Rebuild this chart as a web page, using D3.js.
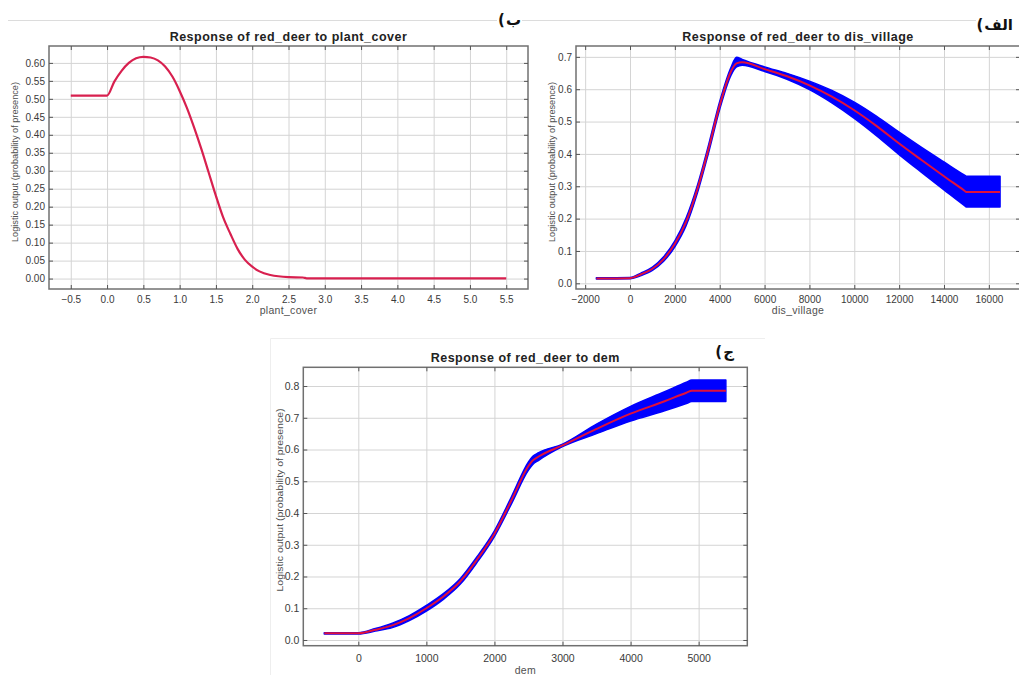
<!DOCTYPE html>
<html>
<head>
<meta charset="utf-8">
<script src="https://cdn.jsdelivr.net/npm/d3@7"></script>
<style>
  body { margin: 0; background: #fff; }
  svg { display: block; font-family: "Liberation Sans", Arial, sans-serif; }
  .grid line { stroke: #d4d4d4; stroke-width: 1; }
  .grid path { display: none; }
  .ax path { display: none; }
  .ax line { stroke: #555; stroke-width: 1; }
  .ax text { fill: #3a3a3a; }
  .title { font-weight: bold; fill: #222; }
  .lab { fill: #505050; }
  .fa { font-family: "DejaVu Sans", sans-serif; font-weight: bold; fill: #111; }
</style>
</head>
<body>
<svg width="1019" height="675"></svg>
<script>
// panel ب : response to plant_cover
const coverX = [-0.5, 0.0, 0.1, 0.2, 0.3, 0.4, 0.5, 0.6, 0.7, 0.8, 0.9, 1.0, 1.1, 1.2, 1.3, 1.4, 1.5, 1.6, 1.7, 1.8, 1.9, 2.0, 2.1, 2.25, 2.5, 2.7, 2.75, 5.5];
const coverY = [0.509, 0.509, 0.548, 0.578, 0.600, 0.613, 0.617, 0.615, 0.607, 0.590, 0.562, 0.522, 0.475, 0.420, 0.360, 0.295, 0.230, 0.170, 0.124, 0.082, 0.052, 0.033, 0.020, 0.010, 0.004, 0.003, 0.0008, 0.0008];

// panel الف : response to dis_village (mean and +/- band)
const villageX = [-1500, 0, 500, 1000, 1500, 2000, 2500, 3000, 3500, 4000, 4500, 4750, 5000, 6000, 7000, 8000, 9000, 10000, 11000, 12000, 13000, 14000, 14900, 15000, 16500];
const villageMean = [0.015, 0.016, 0.028, 0.045, 0.075, 0.122, 0.190, 0.290, 0.415, 0.550, 0.655, 0.680, 0.683, 0.662, 0.640, 0.612, 0.577, 0.535, 0.486, 0.432, 0.381, 0.331, 0.287, 0.282, 0.282];
const villageLow = [0.013, 0.014, 0.024, 0.040, 0.068, 0.113, 0.178, 0.278, 0.403, 0.538, 0.643, 0.669, 0.674, 0.655, 0.631, 0.599, 0.558, 0.510, 0.456, 0.398, 0.343, 0.289, 0.241, 0.236, 0.236];
const villageHigh = [0.017, 0.018, 0.032, 0.050, 0.082, 0.131, 0.202, 0.302, 0.427, 0.562, 0.667, 0.699, 0.692, 0.669, 0.649, 0.625, 0.596, 0.560, 0.516, 0.467, 0.420, 0.375, 0.335, 0.331, 0.331];

// panel ج : response to dem (mean and +/- band)
const demX = [-500, 0, 250, 500, 750, 1000, 1250, 1500, 1750, 2000, 2250, 2500, 2560, 2650, 3000, 3500, 4000, 4500, 4820, 4900, 5400];
const demMean = [0.021, 0.021, 0.032, 0.046, 0.069, 0.100, 0.137, 0.185, 0.255, 0.335, 0.440, 0.548, 0.565, 0.578, 0.613, 0.665, 0.713, 0.752, 0.779, 0.785, 0.785];
const demLow = [0.019, 0.019, 0.028, 0.039, 0.061, 0.091, 0.128, 0.176, 0.246, 0.326, 0.429, 0.535, 0.552, 0.566, 0.609, 0.650, 0.690, 0.722, 0.745, 0.751, 0.751];
const demHigh = [0.023, 0.023, 0.036, 0.053, 0.077, 0.109, 0.146, 0.194, 0.264, 0.344, 0.451, 0.561, 0.578, 0.590, 0.617, 0.680, 0.736, 0.782, 0.812, 0.819, 0.819];

// tick values
const coverTicksX = [-0.5, 0.0, 0.5, 1.0, 1.5, 2.0, 2.5, 3.0, 3.5, 4.0, 4.5, 5.0, 5.5];
const coverTicksY = [0.00, 0.05, 0.10, 0.15, 0.20, 0.25, 0.30, 0.35, 0.40, 0.45, 0.50, 0.55, 0.60];
const villageTicksX = [-2000, 0, 2000, 4000, 6000, 8000, 10000, 12000, 14000, 16000];
const villageTicksY = [0.0, 0.1, 0.2, 0.3, 0.4, 0.5, 0.6, 0.7];
const demTicksX = [0, 1000, 2000, 3000, 4000, 5000];
const demTicksY = [0.0, 0.1, 0.2, 0.3, 0.4, 0.5, 0.6, 0.7, 0.8];

const svg = d3.select("svg");

// faint page lines
svg.append("line").attr("x1", 8).attr("x2", 497).attr("y1", 20.5).attr("y2", 20.5)
   .attr("stroke", "#dcdcdc");
svg.append("line").attr("x1", 522).attr("x2", 976).attr("y1", 20.5).attr("y2", 20.5)
   .attr("stroke", "#dcdcdc");
svg.append("path").attr("d", "M270.5,675V338.5H765").attr("fill", "none").attr("stroke", "#eeeeee");

function panel(p) {
  const x = d3.scaleLinear().domain(p.xDomain).range([p.left, p.right]);
  const y = d3.scaleLinear().domain(p.yDomain).range([p.bottom, p.top]);
  const w = p.right - p.left, h = p.bottom - p.top;
  const g = svg.append("g");

  g.append("g").attr("class", "grid").attr("transform", `translate(0,${p.bottom})`)
   .call(d3.axisBottom(x).tickValues(p.xTicks).tickSize(-h).tickFormat(""));
  g.append("g").attr("class", "grid").attr("transform", `translate(${p.left},0)`)
   .call(d3.axisLeft(y).tickValues(p.yTicks).tickSize(-w).tickFormat(""));

  if (p.low) {
    const band = d3.area()
      .x((d, i) => x(p.xs[i]))
      .y0((d, i) => y(p.low[i]))
      .y1((d, i) => y(p.high[i]))
      .curve(d3.curveMonotoneX);
    g.append("path").datum(p.xs).attr("d", band)
     .attr("fill", "#0000ff").attr("stroke", "#0000ff").attr("stroke-width", 1.5)
     .attr("stroke-linejoin", "round");
  }

  const line = d3.line()
    .x((d, i) => x(p.xs[i]))
    .y((d, i) => y(p.mean[i]))
    .curve(d3.curveMonotoneX);
  g.append("path").datum(p.xs).attr("d", line)
   .attr("fill", "none").attr("stroke", p.color).attr("stroke-width", p.lw);

  g.append("rect").attr("x", p.left).attr("y", p.top).attr("width", w).attr("height", h)
   .attr("fill", "none").attr("stroke", "#707070").attr("stroke-width", 1.5);

  const fs = p.fs + "px";
  g.append("g").attr("class", "ax").attr("transform", `translate(0,${p.bottom})`)
   .call(d3.axisBottom(x).tickValues(p.xTicks).tickSize(-4).tickPadding(p.xPad).tickFormat(d3.format(p.xFmt)))
   .selectAll("text").style("font-size", fs);
  g.append("g").attr("class", "ax").attr("transform", `translate(0,${p.top})`)
   .call(d3.axisTop(x).tickValues(p.xTicks).tickSize(-4).tickFormat(""));
  g.append("g").attr("class", "ax").attr("transform", `translate(${p.left},0)`)
   .call(d3.axisLeft(y).tickValues(p.yTicks).tickSize(-4).tickPadding(4).tickFormat(d3.format(p.yFmt)))
   .selectAll("text").style("font-size", fs);
  g.append("g").attr("class", "ax").attr("transform", `translate(${p.right},0)`)
   .call(d3.axisRight(y).tickValues(p.yTicks).tickSize(-4).tickFormat(""));

  g.append("text").attr("class", "title")
   .attr("x", (p.left + p.right) / 2).attr("y", p.titleY)
   .attr("text-anchor", "middle").style("font-size", "12.5px").style("letter-spacing", "0.5px")
   .text(p.title);
  g.append("text").attr("class", "lab")
   .attr("x", (p.left + p.right) / 2).attr("y", p.xLabY)
   .attr("text-anchor", "middle").style("font-size", "10.5px").style("letter-spacing", "0.3px")
   .text(p.xLabel);
  g.append("text").attr("class", "lab")
   .attr("transform", `translate(${p.yLabX},${p.yLabC}) rotate(-90)`)
   .attr("text-anchor", "middle").style("font-size", "9.5px")
   .attr("textLength", p.yLabLen).attr("lengthAdjust", "spacingAndGlyphs")
   .text("Logistic output (probability of presence)");
}

panel({
  left: 49, right: 528, top: 46, bottom: 289,
  xDomain: [-0.8, 5.8], yDomain: [-0.029, 0.647],
  xTicks: coverTicksX, yTicks: coverTicksY, xFmt: ".1f", yFmt: ".2f",
  xs: coverX, mean: coverY, color: "#d8204f", lw: 2.2,
  fs: 10, xPad: 7, titleY: 41, xLabY: 314, yLabX: 18, yLabC: 162, yLabLen: 160,
  title: "Response of red_deer to plant_cover", xLabel: "plant_cover"
});

panel({
  left: 576, right: 1020, top: 46, bottom: 289,
  xDomain: [-2408, 17389], yDomain: [-0.0176, 0.7336],
  xTicks: villageTicksX, yTicks: villageTicksY, xFmt: "d", yFmt: ".1f",
  xs: villageX, mean: villageMean, low: villageLow, high: villageHigh,
  color: "#e0103c", lw: 2,
  fs: 10, xPad: 7, titleY: 41, xLabY: 314, yLabX: 555, yLabC: 162, yLabLen: 160,
  title: "Response of red_deer to dis_village", xLabel: "dis_village"
});

panel({
  left: 303.3, right: 747.3, top: 367.3, bottom: 645.7,
  xDomain: [-808, 5715], yDomain: [-0.018, 0.859],
  xTicks: demTicksX, yTicks: demTicksY, xFmt: "d", yFmt: ".1f",
  xs: demX, mean: demMean, low: demLow, high: demHigh,
  color: "#e0103c", lw: 2,
  fs: 10.5, xPad: 8.5, titleY: 362, xLabY: 674, yLabX: 283, yLabC: 500, yLabLen: 183,
  title: "Response of red_deer to dem", xLabel: "dem"
});

// panel letters (Persian): word right-aligned, the (mirrored) parenthesis drawn to its left
[["ب", 521, 25], ["الف", 1013, 30], ["ج", 734, 357]].forEach(([t, rx, by]) => {
  const word = svg.append("text").attr("class", "fa")
     .attr("x", rx).attr("y", by).attr("text-anchor", "end")
     .style("font-size", "15px").text(t);
  const len = word.node().getComputedTextLength();
  svg.append("text").attr("class", "fa")
     .attr("x", rx - len - 1).attr("y", by).attr("text-anchor", "end")
     .style("font-size", "15px").text("(");
});
</script>
</body>
</html>
